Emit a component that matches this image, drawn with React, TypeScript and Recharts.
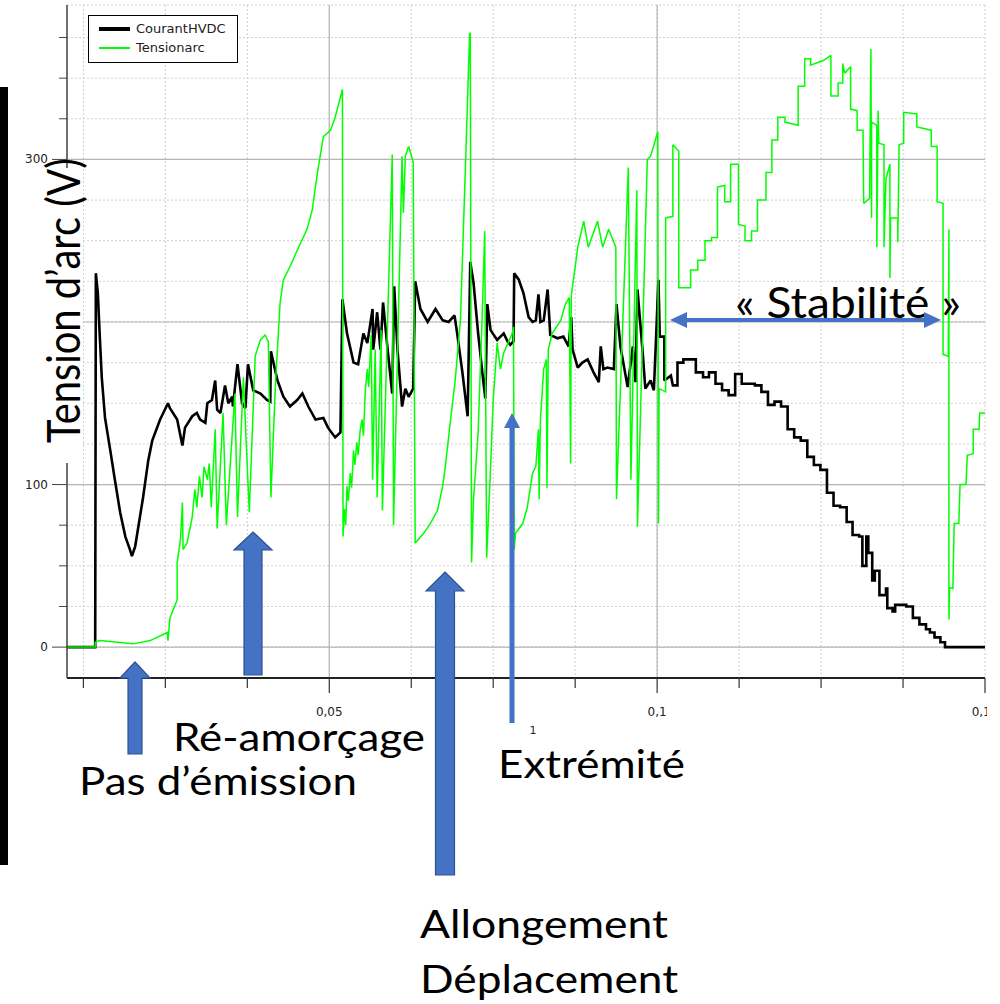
import React from "react";
import { LineChart, Line, XAxis, YAxis, CartesianGrid, Legend } from "recharts";

const BLACK = "#000000";
const GREEN = "#00ff00";
const BLUE = "#4472c4";
const BLUE_EDGE = "#2f528f";
const INK = "#222222";

// [time (ms), value]
const courantHVDC: [number, number][] = [
  [10.0, 0], [14.3, 0], [14.4, 230], [14.7, 218], [15.0, 191], [15.3, 166], [15.8, 141], [16.6, 121],
  [17.3, 103], [18.1, 83], [18.9, 68], [19.6, 60], [19.9, 56], [20.4, 62], [20.8, 72], [21.6, 92],
  [22.4, 115], [23.0, 127], [24.2, 140], [25.4, 150], [25.7, 147], [26.8, 140], [27.6, 124], [28.0, 135],
  [29.1, 142], [29.8, 144], [30.3, 140], [31.1, 138], [31.4, 150], [32.1, 152], [32.6, 164], [32.9, 146],
  [33.4, 144], [34.1, 161], [34.6, 150], [35.2, 154], [35.3, 148], [36.0, 174], [36.7, 150], [37.2, 147],
  [37.6, 174], [38.4, 158], [39.5, 156], [40.5, 152], [41.0, 151], [41.1, 182], [42.1, 164], [43.0, 154],
  [44.0, 148], [45.1, 152], [45.9, 156], [46.8, 148], [47.9, 140], [49.1, 141], [49.8, 135], [50.9, 129],
  [51.7, 132], [52.0, 214], [52.7, 193], [53.7, 175], [54.4, 174], [55.2, 193], [55.8, 187], [56.6, 208],
  [56.7, 183], [57.3, 206], [57.8, 183], [58.2, 212], [58.9, 183], [59.6, 156], [59.9, 222], [60.4, 183],
  [61.1, 148], [61.6, 159], [62.1, 154], [62.8, 159], [63.1, 225], [63.9, 208], [65.0, 200], [66.2, 208],
  [67.3, 201], [68.2, 200], [69.1, 204], [69.5, 193], [70.3, 169], [71.1, 142], [71.5, 237], [72.0, 224],
  [72.7, 193], [73.5, 163], [73.8, 153], [74.1, 211], [74.6, 195], [75.6, 189], [76.6, 193], [77.2, 188],
  [77.6, 186], [78.1, 188], [78.2, 230], [78.9, 226], [79.6, 218], [80.4, 203], [81.0, 200], [81.5, 201],
  [81.9, 217], [82.2, 200], [82.7, 201], [83.3, 220], [83.7, 192], [84.8, 190], [85.7, 191], [86.5, 185],
  [86.9, 203], [87.1, 183], [87.9, 172], [88.6, 175], [89.4, 177], [90.3, 169], [91.1, 163], [91.4, 185],
  [91.8, 171], [92.4, 172], [93.4, 171], [93.8, 211], [94.4, 185], [95.5, 160], [96.3, 185], [96.7, 163],
  [97.0, 220], [97.8, 181], [98.2, 159], [99.0, 164], [99.5, 158], [100.2, 226], [100.4, 191], [101.1, 191],
  [101.1, 164], [102.1, 167], [102.4, 161], [103.1, 161], [103.1, 175], [104.0, 175], [104.0, 177],
  [105.9, 177], [105.9, 169], [107.0, 169], [107.0, 166], [107.9, 166], [107.9, 169], [108.9, 169],
  [108.9, 162], [109.9, 162], [109.9, 158], [110.9, 158], [110.9, 155], [111.9, 155], [111.9, 168],
  [112.9, 168], [112.9, 162], [114.9, 162], [114.9, 161], [115.9, 161], [115.9, 157], [116.9, 157],
  [116.9, 149], [117.9, 149], [117.9, 151], [118.9, 151], [118.9, 148], [119.9, 148], [119.9, 134],
  [120.9, 134], [120.9, 129], [121.9, 129], [121.9, 127], [122.9, 127], [122.9, 117], [123.9, 117],
  [123.9, 112], [124.9, 112], [124.9, 109], [125.9, 109], [125.9, 95], [126.9, 95], [126.9, 87],
  [127.9, 87], [127.9, 86], [128.9, 86], [128.9, 77], [129.8, 77], [129.8, 69], [130.8, 69], [130.8, 68],
  [131.3, 68], [131.3, 50], [131.9, 50], [131.9, 68], [132.2, 68], [132.2, 58], [132.8, 58], [132.8, 41],
  [133.2, 41], [133.2, 47], [133.9, 47], [133.9, 32], [134.9, 32], [134.9, 36], [135.1, 36], [135.1, 24],
  [135.9, 24], [135.9, 22], [136.3, 22], [136.3, 26], [138.0, 26], [138.0, 25], [139.0, 25], [139.0, 18],
  [140.0, 18], [140.0, 14], [141.0, 14], [141.0, 11], [141.6, 11], [141.6, 9], [142.3, 9], [142.3, 6],
  [143.2, 6], [143.2, 3], [143.9, 3], [143.9, 0], [150.0, 0],
];

const tensionArc: [number, number][] = [
  [10.0, 0], [14.3, 0], [14.3, 3], [15.0, 4], [20.1, 2], [22.7, 4], [25.3, 9], [25.4, 4], [25.7, 18],
  [26.2, 23], [26.8, 29], [26.8, 52], [27.3, 66], [27.6, 89], [27.7, 60], [28.3, 64], [29.1, 80],
  [29.5, 97], [29.8, 86], [30.2, 105], [30.6, 92], [30.9, 111], [31.4, 103], [31.7, 113], [32.0, 86],
  [32.6, 134], [32.9, 73], [33.8, 144], [34.3, 75], [35.6, 156], [36.0, 80], [36.9, 166], [37.8, 83],
  [38.7, 179], [39.5, 189], [40.2, 192], [40.7, 188], [41.1, 92], [41.8, 163], [42.5, 212], [43.0, 226],
  [44.0, 234], [45.1, 244], [46.6, 257], [47.4, 269], [48.2, 292], [49.1, 314], [50.2, 318], [50.9, 326],
  [52.0, 343], [52.1, 68], [52.3, 85], [52.5, 75], [52.7, 99], [52.9, 90], [53.2, 107], [53.4, 98],
  [53.7, 121], [53.9, 112], [54.2, 126], [54.4, 118], [54.7, 133], [55.0, 140], [55.2, 130], [55.5, 158],
  [55.8, 171], [56.0, 160], [56.4, 192], [56.6, 103], [57.0, 183], [57.3, 92], [57.9, 195], [58.1, 84],
  [59.6, 303], [59.8, 75], [61.1, 302], [61.3, 267], [61.6, 302], [62.1, 308], [62.7, 300], [62.8, 298],
  [63.1, 64], [64.4, 70], [65.4, 76], [66.5, 84], [67.3, 99], [67.7, 111], [68.5, 140], [69.2, 164],
  [70.0, 201], [70.8, 300], [71.4, 377], [71.5, 378], [71.7, 52], [72.0, 91], [72.7, 132], [73.4, 214],
  [73.7, 256], [74.0, 55], [74.6, 111], [75.0, 152], [75.6, 187], [76.1, 171], [76.6, 181], [77.9, 193],
  [78.1, 197], [78.2, 60], [78.4, 70], [79.5, 76], [80.2, 86], [81.0, 107], [81.5, 111], [81.9, 134],
  [82.0, 91], [82.2, 140], [82.7, 171], [83.1, 177], [83.2, 98], [83.4, 183], [84.0, 193], [85.3, 201],
  [86.0, 211], [86.6, 215], [86.8, 113], [86.9, 216], [87.9, 246], [88.8, 262], [89.5, 246], [90.9, 262],
  [91.7, 246], [92.6, 257], [93.7, 246], [93.8, 91], [95.6, 295], [96.0, 103], [96.9, 281], [97.0, 74],
  [98.5, 300], [99.0, 302], [100.1, 317], [100.2, 76], [100.3, 159], [101.3, 157], [101.3, 264],
  [102.4, 265], [102.4, 309], [103.3, 305], [103.3, 221], [105.1, 221], [105.1, 232], [106.2, 232],
  [106.2, 238], [107.3, 238], [107.3, 250], [108.3, 250], [108.3, 252], [109.2, 252], [109.2, 283],
  [110.3, 284], [110.3, 274], [111.2, 274], [111.2, 297], [112.4, 297], [112.4, 260], [113.4, 259],
  [113.4, 250], [114.4, 250], [114.4, 256], [115.3, 256], [115.3, 275], [116.6, 275], [116.6, 292],
  [117.5, 292], [117.5, 312], [118.4, 312], [118.4, 326], [119.5, 326], [119.5, 323], [121.5, 321],
  [121.5, 345], [122.5, 345], [122.5, 362], [123.4, 362], [123.4, 358], [125.4, 361], [126.5, 364],
  [126.5, 339], [127.6, 339], [127.6, 347], [128.3, 347], [128.3, 359], [128.6, 353], [129.5, 357],
  [129.5, 331], [130.5, 330], [130.5, 318], [131.4, 318], [131.5, 273], [132.4, 276], [132.6, 368],
  [132.7, 264], [132.7, 323], [133.5, 321], [133.5, 246], [133.7, 330], [133.8, 310], [134.6, 309],
  [134.6, 246], [134.9, 288], [135.5, 297], [135.5, 227], [135.6, 264], [136.7, 264], [136.7, 249],
  [136.9, 309], [137.6, 310], [137.6, 329], [139.6, 328], [139.6, 320], [141.8, 318], [141.8, 308],
  [142.7, 308], [142.7, 274], [143.6, 273], [143.6, 180], [144.4, 179], [144.5, 257], [144.5, 17],
  [144.6, 37], [145.1, 36], [145.3, 76], [146.0, 76], [146.2, 100], [147.1, 100], [147.3, 118],
  [148.2, 119], [148.2, 134], [149.1, 134], [149.2, 144], [150.0, 144],
];

const X_DOMAIN: [number, number] = [10, 150];
const Y_DOMAIN: [number, number] = [-19, 395];
const X_TICKS = [12.5, 25, 37.5, 50, 62.5, 75, 87.5, 100, 112.5, 125, 137.5, 150];
const X_MAJOR = [50, 100, 150];
const Y_TICKS = [0, 25, 50, 75, 100, 125, 150, 175, 200, 225, 250, 275, 300, 325, 350, 375];
const Y_MAJOR = [0, 100, 200, 300];

const SERIES = [
  { key: "courant", name: "CourantHVDC", color: BLACK, width: 2.6, legendWidth: 4, points: courantHVDC },
  { key: "tension", name: "Tensionarc", color: GREEN, width: 1.5, legendWidth: 2, points: tensionArc },
];

const toRows = (pts: [number, number][]) => pts.map(([t, v]) => ({ t, v }));

// seconds with a decimal comma, axis runs in ms
const fmtSeconds = (ms: number) => String(+(ms / 1000).toFixed(4)).replace(".", ",");

function YTick(props: any) {
  const { x, y, payload } = props;
  const major = Y_MAJOR.includes(payload.value);
  const len = major ? 15 : 8;
  return (
    <g>
      <line x1={x - len} y1={y} x2={x} y2={y} stroke="#444" strokeWidth={1} />
      {major && (
        <text x={x - len - 4} y={y + 4} textAnchor="end" fontSize={12} fill={INK} fontFamily="DejaVu Sans, sans-serif">
          {payload.value}
        </text>
      )}
    </g>
  );
}

function XTick(props: any) {
  const { x, y, payload } = props;
  const major = X_MAJOR.includes(payload.value);
  const len = major ? 15 : 10;
  return (
    <g>
      <line x1={x} y1={y} x2={x} y2={y + len} stroke="#333" strokeWidth={1.2} />
      {major && (
        <text x={x} y={y + 38} textAnchor="middle" fontSize={12} fill={INK} fontFamily="DejaVu Sans, sans-serif">
          {fmtSeconds(payload.value)}
        </text>
      )}
    </g>
  );
}

function LegendBox() {
  return (
    <div
      style={{
        width: 150, height: 48, border: "1px solid #000", background: "#fff", boxSizing: "border-box",
        padding: "3px 0 0 10px", fontFamily: "DejaVu Sans, sans-serif", fontSize: 13, color: INK,
      }}
    >
      {SERIES.map((s) => (
        <div key={s.key} style={{ display: "flex", alignItems: "center", height: 19, whiteSpace: "nowrap" }}>
          <span style={{ display: "inline-block", width: 31, height: s.legendWidth, background: s.color, marginRight: 6 }} />
          {s.name}
        </div>
      ))}
    </div>
  );
}

// block arrow pointing up
const upArrow = (cx: number, tip: number, base: number, bottom: number, head: number, shaft: number) =>
  [
    [cx, tip], [cx + head, base], [cx + shaft, base], [cx + shaft, bottom],
    [cx - shaft, bottom], [cx - shaft, base], [cx - head, base],
  ].map((p) => p.join(",")).join(" ");

const BLOCK_ARROWS = [
  { cx: 135, tip: 662, base: 678, bottom: 754, head: 15, shaft: 7 },
  { cx: 253, tip: 532, base: 550, bottom: 675, head: 19, shaft: 9 },
  { cx: 445, tip: 572, base: 591, bottom: 875, head: 19, shaft: 9.5 },
];

const NOTES = [
  { text: "Ré-amorçage", x: 173, y: 751, w: 252, size: 38 },
  { text: "Pas d’émission", x: 79, y: 795, w: 278, size: 38 },
  { text: "Extrémité", x: 498, y: 778, w: 187, size: 38 },
  { text: "Allongement", x: 420, y: 938, w: 248, size: 38 },
  { text: "Déplacement", x: 420, y: 993, w: 258, size: 38 },
  { text: "« Stabilité »", x: 735, y: 318, w: 226, size: 43 },
];

function Overlay() {
  return (
    <svg width={1000} height={1004} style={{ position: "absolute", left: 0, top: 0, pointerEvents: "none" }}>
      <rect x={0} y={87} width={8} height={778} fill="#000" />
      <rect x={8} y={168} width={75} height={295} fill="#fff" />
      <text
        transform="translate(80,443) rotate(-90)"
        fontFamily="Lato, sans-serif" fontSize={46} fill="#000"
        textLength={285} lengthAdjust="spacingAndGlyphs"
      >
        Tension d’arc (V)
      </text>
      {NOTES.map((n) => (
        <text key={n.text} x={n.x} y={n.y} fontFamily="Lato, sans-serif" fontSize={n.size} fill="#000"
          textLength={n.w} lengthAdjust="spacingAndGlyphs">
          {n.text}
        </text>
      ))}
      <text x={533} y={734} fontSize={11} fill={INK} fontFamily="DejaVu Sans, sans-serif" textAnchor="middle">1</text>
      {BLOCK_ARROWS.map((a, i) => (
        <polygon key={i} points={upArrow(a.cx, a.tip, a.base, a.bottom, a.head, a.shaft)}
          fill={BLUE} stroke={BLUE_EDGE} strokeWidth={1.2} />
      ))}
      {/* thin arrow to the electrode tip */}
      <polygon points={upArrow(512, 413, 428, 723, 8, 2.5)} fill={BLUE} />
      {/* double arrow over the stable stretch */}
      <polygon
        points="670,320 687,312 687,318 924,318 924,312 941,320 924,328 924,322 687,322 687,328"
        fill={BLUE}
      />
    </svg>
  );
}

export default function App() {
  return (
    <div style={{ position: "absolute", left: 0, top: 0, width: 1000, height: 1004, background: "#fff", overflow: "hidden" }}>
      <LineChart width={987} height={1004} margin={{ top: 5, right: 2, bottom: 286, left: 0 }}>
        <CartesianGrid stroke="#cfcfcf" strokeDasharray="2 2" />
        <CartesianGrid stroke="#b5b5b5" strokeWidth={1.2} horizontalValues={Y_MAJOR} verticalValues={[50, 100]} />
        <XAxis
          dataKey="t" type="number" domain={X_DOMAIN} ticks={X_TICKS} interval={0} allowDataOverflow
          height={40} tickSize={0} tickMargin={0} tickLine={false} tick={<XTick />}
          axisLine={{ stroke: "#222", strokeWidth: 2 }}
        />
        <XAxis xAxisId="frame" orientation="top" type="number" domain={X_DOMAIN} height={0} tick={false}
          tickLine={false} axisLine={{ stroke: "#222", strokeWidth: 1 }} />
        <YAxis
          type="number" domain={Y_DOMAIN} ticks={Y_TICKS} interval={0} allowDataOverflow width={67}
          tickSize={0} tickMargin={0} tickLine={false} tick={<YTick />}
          axisLine={{ stroke: "#444", strokeWidth: 1.5 }}
        />
        <YAxis yAxisId="frame" orientation="right" type="number" domain={Y_DOMAIN} width={0} tick={false}
          tickLine={false} axisLine={{ stroke: "#222", strokeWidth: 1 }} />
        <Legend
          layout="horizontal" verticalAlign="middle" align="center" content={<LegendBox />}
          wrapperStyle={{ left: 88, top: 15, width: 150, height: 48 }}
        />
        {SERIES.map((s) => (
          <Line
            key={s.key} name={s.name} data={toRows(s.points)} dataKey="v" type="linear"
            stroke={s.color} strokeWidth={s.width} dot={false} activeDot={false} isAnimationActive={false}
            strokeLinejoin="miter" strokeMiterlimit={2}
          />
        ))}
      </LineChart>
      <Overlay />
    </div>
  );
}
